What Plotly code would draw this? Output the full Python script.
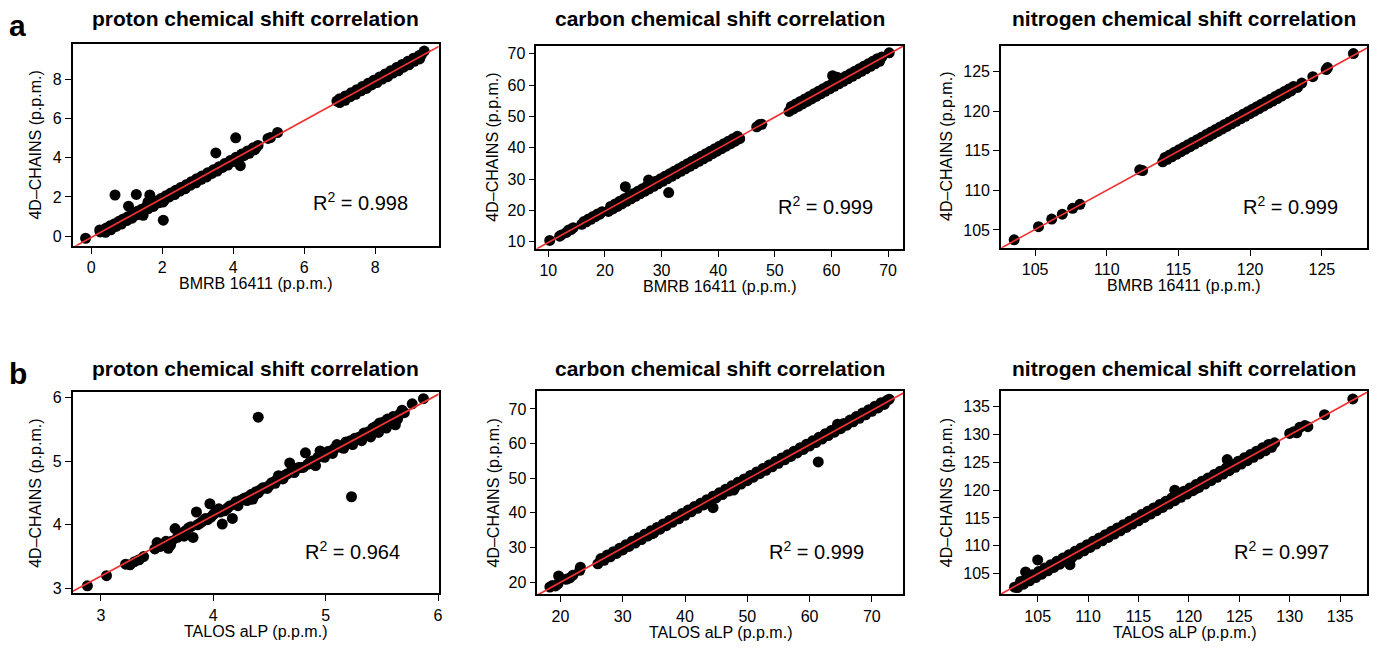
import numpy as np
import plotly.graph_objects as go

W, H = 1382, 648
FONT = "Liberation Sans, Arial, Helvetica, sans-serif"

# ---------------- data ----------------
# a: proton, BMRB 16411 vs 4D-CHAINS
a1_x = [-0.16, 0.24,
        0.25, 0.3, 0.36, 0.42, 0.47, 0.53, 0.6, 0.66, 0.72, 0.78,
        0.85, 0.9, 0.97, 1.03, 1.1, 1.16, 1.22, 1.3, 1.36, 1.42,
        1.5, 1.56, 1.62, 1.7, 1.76, 1.83, 1.9, 1.96, 2.03, 2.1,
        2.17, 2.24, 2.3, 2.38, 2.45, 2.52, 2.6, 2.67, 2.74, 2.82,
        2.9, 2.97, 3.05, 3.12, 3.2, 3.28, 3.36, 3.44, 3.52, 3.6,
        3.68, 3.76, 3.84, 3.92, 4.0, 4.08, 4.16, 4.24, 4.32, 4.4,
        4.48, 4.56, 4.64, 4.7,
        0.4, 0.55, 0.7, 0.85, 1.0, 1.15, 1.3, 1.45, 1.6, 1.75,
        1.9, 2.05, 2.2, 2.35, 2.5, 2.65, 2.8, 2.95, 3.1, 3.25,
        3.4, 3.55, 3.7, 3.85, 4.0, 4.15, 4.3, 4.45, 4.6,
        0.67, 1.27, 1.65, 1.05, 2.02, 2.03, 1.46, 0.85, 1.6, 3.51, 4.07, 4.2,
        4.98, 5.05, 5.25,
        6.92, 7.0, 7.08, 7.16, 7.24, 7.32, 7.4, 7.48, 7.56, 7.64,
        7.72, 7.8, 7.88, 7.96, 8.04, 8.12, 8.2, 8.28, 8.36, 8.44,
        8.52, 8.6, 8.68, 8.76, 8.84, 8.92, 9.0, 9.08, 9.16, 9.24,
        9.3, 9.38,
        7.0, 7.15, 7.3, 7.45, 7.6, 7.75, 7.9, 8.05, 8.2, 8.35,
        8.5, 8.65, 8.8, 8.95, 9.1, 9.25]
a1_y = [-0.1, 0.32,
        0.22, 0.3, 0.27, 0.42, 0.37, 0.53, 0.5, 0.64, 0.6, 0.76,
        0.74, 0.88, 0.86, 1.0, 0.98, 1.13, 1.1, 1.27, 1.24, 1.38,
        1.38, 1.53, 1.5, 1.66, 1.64, 1.8, 1.78, 1.92, 1.92, 2.06,
        2.05, 2.2, 2.18, 2.34, 2.32, 2.48, 2.47, 2.62, 2.6, 2.78,
        2.76, 2.93, 2.9, 3.07, 3.06, 3.23, 3.2, 3.38, 3.36, 3.54,
        3.52, 3.7, 3.68, 3.86, 3.84, 4.02, 4.0, 4.18, 4.16, 4.34,
        4.32, 4.5, 4.48, 4.62,
        0.2, 0.33, 0.5, 0.62, 0.8, 0.92, 1.1, 1.22, 1.4, 1.52,
        1.7, 1.82, 2.0, 2.12, 2.3, 2.42, 2.6, 2.72, 2.9, 3.02,
        3.2, 3.32, 3.5, 3.62, 3.8, 3.92, 4.1, 4.22, 4.4,
        2.1, 2.13, 2.1, 1.53, 1.74, 0.82, 1.07, 0.74, 1.75, 4.24, 5.01, 3.59,
        4.98, 5.02, 5.28,
        6.88, 7.0, 6.96, 7.14, 7.12, 7.3, 7.28, 7.46, 7.44, 7.62,
        7.6, 7.78, 7.76, 7.94, 7.92, 8.1, 8.08, 8.26, 8.24, 8.42,
        8.4, 8.58, 8.56, 8.74, 8.72, 8.9, 8.88, 9.06, 9.04, 9.2,
        9.22, 9.42,
        6.8, 6.92, 7.1, 7.22, 7.4, 7.52, 7.7, 7.82, 8.0, 8.12,
        8.3, 8.42, 8.6, 8.72, 8.9, 9.02]

# a: carbon
a2_x = [10.25, 12.0, 12.3, 13.2, 13.6, 14.0, 14.4,
        15.9, 16.3, 16.7, 17.1, 17.5, 17.9, 18.3, 18.7, 19.1, 19.5,
        20.6, 21.0, 21.4, 21.8, 22.2, 22.6, 23.0, 23.4, 23.8, 24.2,
        24.6, 25.0, 25.4, 25.8, 26.2, 26.6, 27.0, 27.4, 27.8, 28.2,
        28.6, 29.0, 29.4, 29.8, 30.2, 30.6, 31.0, 31.4, 31.8, 32.2,
        32.6, 33.0, 33.4, 33.8, 34.2, 34.6, 35.0, 35.4, 35.8, 36.2,
        36.6, 37.0, 37.4, 37.8, 38.2, 38.6, 39.0, 39.4, 39.8, 40.2,
        40.6, 41.0, 41.4, 41.8, 42.2, 42.6, 43.0, 43.4, 43.8,
        23.6, 27.7, 31.25, 27.3,
        46.8, 47.3, 47.7,
        52.5, 52.9, 53.3, 53.7, 54.1, 54.5, 54.9, 55.3, 55.7, 56.1,
        56.5, 56.9, 57.3, 57.7, 58.1, 58.5, 58.9, 59.3, 59.7, 60.1,
        60.5, 60.9, 61.3, 61.7, 62.1, 62.5, 62.9, 63.3, 63.7, 64.1,
        64.5, 64.9, 65.3, 65.7, 66.1, 66.5, 66.9, 67.3, 67.7, 68.1,
        68.5, 68.9,
        60.2, 61.0, 70.2]
a2_y = [10.44, 11.8, 12.2, 13.0, 13.8, 13.9, 14.5,
        15.6, 16.5, 16.4, 17.3, 17.2, 18.1, 18.0, 18.9, 18.8, 19.6,
        19.7, 21.3, 20.5, 22.1, 21.3, 22.9, 22.1, 23.7, 22.9, 24.5,
        23.7, 25.3, 24.5, 26.1, 25.3, 26.9, 26.1, 27.7, 26.9, 28.5,
        27.7, 29.3, 28.5, 30.1, 29.3, 30.9, 30.1, 31.7, 30.9, 32.5,
        31.7, 33.3, 32.5, 34.1, 33.3, 34.9, 34.1, 35.7, 34.9, 36.5,
        35.7, 37.3, 36.5, 38.1, 37.3, 38.9, 38.1, 39.7, 38.9, 40.5,
        39.7, 41.3, 40.5, 42.1, 41.3, 42.9, 42.1, 43.7, 42.9,
        27.6, 29.7, 25.7, 26.6,
        46.7, 47.4, 47.5,
        51.6, 53.2, 52.4, 54.0, 53.2, 54.8, 54.0, 55.6, 54.8, 56.4,
        55.6, 57.2, 56.4, 58.0, 57.2, 58.8, 58.0, 59.6, 58.8, 60.4,
        59.6, 61.2, 60.4, 62.0, 61.2, 62.8, 62.0, 63.6, 62.8, 64.4,
        63.6, 65.2, 64.4, 66.0, 65.2, 66.8, 66.0, 67.6, 66.8, 68.4,
        67.6, 69.0,
        63.0, 62.5, 70.3]

# a: nitrogen
a3_x = [103.54, 105.24, 106.16, 106.9, 107.62, 108.13, 112.3, 112.5,
        113.9, 114.06, 114.22, 114.38, 114.54, 114.7, 114.86, 115.02, 115.18, 115.34,
        115.5, 115.66, 115.82, 115.98, 116.14, 116.3, 116.46, 116.62, 116.78, 116.94,
        117.1, 117.26, 117.42, 117.58, 117.74, 117.9, 118.06, 118.22, 118.38, 118.54,
        118.7, 118.86, 119.02, 119.18, 119.34, 119.5, 119.66, 119.82, 119.98, 120.14,
        120.3, 120.46, 120.62, 120.78, 120.94, 121.1, 121.26, 121.42, 121.58, 121.74,
        121.9, 122.06, 122.22, 122.38, 122.54, 122.7, 122.86, 123.02, 123.3, 123.6,
        124.37, 125.4, 125.3, 127.2]
a3_y = [103.75, 105.41, 106.37, 107.0, 107.74, 108.24, 112.6, 112.5,
        113.6, 114.16, 113.92, 114.48, 114.24, 114.8, 114.56, 115.12, 114.88, 115.44,
        115.2, 115.76, 115.52, 116.08, 115.84, 116.4, 116.16, 116.72, 116.48, 117.04,
        116.8, 117.36, 117.12, 117.68, 117.44, 118.0, 117.76, 118.32, 118.08, 118.64,
        118.4, 118.96, 118.72, 119.28, 119.04, 119.6, 119.36, 119.92, 119.68, 120.24,
        120.0, 120.56, 120.32, 120.88, 120.64, 121.2, 120.96, 121.52, 121.28, 121.84,
        121.6, 122.16, 121.92, 122.48, 122.24, 122.8, 122.56, 123.12, 123.0, 123.55,
        124.36, 125.5, 125.25, 127.27]

# b: proton, TALOS aLP vs 4D-CHAINS
b1_x = [2.88, 3.05, 3.22, 3.26, 3.3, 3.34, 3.38,
        3.48, 3.5, 3.53, 3.56, 3.6, 3.63, 3.58,
        3.66, 3.68, 3.72, 3.75, 3.78, 3.82, 3.85, 3.86, 3.9, 3.93,
        3.97, 3.98, 4.02, 4.05, 4.08, 4.1, 4.13, 4.17, 4.2, 4.24,
        4.28, 4.32, 4.35, 4.38, 4.42, 4.46, 4.5, 4.53, 4.56, 4.58,
        4.6, 4.64, 4.68, 4.7, 4.74, 4.78, 4.82, 4.84, 4.88, 4.91,
        4.95, 4.97, 5.0, 5.04, 5.08, 5.1, 5.14, 5.18, 5.22, 5.26,
        5.3, 5.34, 5.38, 5.42, 5.45, 5.48, 5.52, 5.55, 5.6, 5.66,
        5.68, 5.77, 5.87, 4.4, 5.23,
        3.62, 3.7, 3.74, 3.8, 3.88, 3.95, 4.0, 4.06, 4.12, 4.15,
        4.22, 4.26, 4.3, 4.34, 4.37, 4.4, 4.44, 4.48, 4.52, 4.55,
        4.62, 4.66, 4.72, 4.76, 4.8, 4.86, 4.9, 4.93, 4.99, 5.02,
        5.06, 5.12, 5.16, 5.2, 5.24, 5.28, 5.32, 5.36, 5.4, 5.44,
        5.47, 5.5, 5.54, 5.58, 5.62, 5.64, 5.7]
b1_y = [3.04, 3.2, 3.38, 3.37, 3.42, 3.45, 3.5,
        3.62, 3.72, 3.66, 3.7, 3.63, 3.74, 3.74,
        3.94, 3.8, 3.85, 3.9, 3.95, 3.8, 4.2, 4.0, 4.05, 4.1,
        4.33, 4.12, 4.2, 4.25, 4.01, 4.22, 4.27, 4.1, 4.36, 4.38,
        4.42, 4.45, 4.4, 4.52, 4.55, 4.58, 4.62, 4.66, 4.7, 4.77,
        4.74, 4.78, 4.97, 4.85, 4.88, 4.9, 5.13, 4.95, 5.0, 4.93,
        5.16, 5.08, 5.12, 5.16, 5.2, 5.26, 5.24, 5.3, 5.32, 5.36,
        5.38, 5.44, 5.46, 5.52, 5.55, 5.6, 5.62, 5.66, 5.7, 5.74,
        5.8, 5.9, 5.98, 5.69, 4.44,
        3.68, 3.86, 3.82, 3.97, 4.02, 4.08, 4.16, 4.2, 4.25, 4.3,
        4.3, 4.4, 4.38, 4.48, 4.47, 4.5, 4.58, 4.57, 4.66, 4.65,
        4.72, 4.8, 4.82, 4.9, 4.9, 4.98, 4.97, 5.06, 5.06, 5.15,
        5.12, 5.22, 5.2, 5.29, 5.26, 5.35, 5.32, 5.41, 5.38, 5.48,
        5.45, 5.53, 5.52, 5.6, 5.57, 5.66, 5.76]

# b: carbon
b2_x = [18.3, 18.7, 19.2, 19.6, 19.7, 20.9, 21.5, 22.0, 23.1, 23.2,
        26.0, 26.5, 27.0, 27.5, 28.0, 28.5, 29.0, 29.5, 30.0, 30.5,
        31.0, 31.5, 32.0, 32.5, 33.0, 33.5, 34.0, 34.5, 35.0, 35.5,
        36.0, 36.5, 37.0, 37.5, 38.0, 38.5, 39.0, 39.5, 40.0, 40.5,
        41.0, 41.5, 42.0, 42.5, 43.0, 43.5, 44.0, 44.5, 45.0, 45.5,
        46.0, 46.5, 47.0, 47.5, 48.0, 48.5, 49.0, 49.5, 50.0, 50.5,
        51.0, 51.5, 52.0, 52.5, 53.0, 53.5, 54.0, 54.5, 55.0, 55.5,
        56.0, 56.5, 57.0, 57.5, 58.0, 58.5, 59.0, 59.5, 60.0, 60.5,
        61.0, 61.5, 62.0, 62.5, 63.0, 63.5, 64.0, 64.5, 65.0, 65.5,
        66.0, 66.5, 67.0, 67.5, 68.0, 68.5, 69.0, 69.5, 70.0, 70.5,
        71.0, 71.5, 72.0, 72.4,
        44.5, 47.8, 61.4, 64.5, 72.8, 34.8]
b2_y = [18.6, 19.0, 18.9, 19.5, 21.8, 20.8, 21.2, 22.0, 23.4, 24.3,
        25.3, 26.8, 26.3, 27.8, 27.3, 28.8, 28.3, 29.8, 29.3, 30.8,
        30.3, 31.8, 31.3, 32.8, 32.3, 33.8, 33.3, 34.8, 34.3, 35.8,
        35.3, 36.8, 36.3, 37.8, 37.3, 38.8, 38.3, 39.8, 39.3, 40.8,
        40.3, 41.8, 41.3, 42.8, 42.3, 43.8, 43.3, 44.8, 44.3, 45.8,
        45.3, 46.8, 46.3, 47.8, 47.3, 48.8, 48.3, 49.8, 49.3, 50.8,
        50.3, 51.8, 51.3, 52.8, 52.3, 53.8, 53.3, 54.8, 54.3, 55.8,
        55.3, 56.8, 56.3, 57.8, 57.3, 58.8, 58.3, 59.8, 59.3, 60.8,
        60.3, 61.8, 61.3, 62.8, 62.3, 63.8, 63.3, 64.8, 64.3, 65.8,
        65.3, 66.8, 66.3, 67.8, 67.3, 68.8, 68.3, 69.8, 69.3, 70.8,
        70.3, 71.8, 71.3, 72.4,
        41.5, 46.6, 54.7, 65.6, 72.8, 34.0]

# b: nitrogen
b3_x = [102.7,
        103.0, 103.3, 103.6, 103.9, 104.2, 104.5, 104.8, 105.1, 105.4, 105.7,
        106.0, 106.3, 106.6, 106.9, 107.2, 107.5, 107.8, 108.1, 108.4, 108.7,
        109.0, 109.3, 109.6, 109.9, 110.2, 110.5, 110.8, 111.1, 111.4, 111.7,
        112.0, 112.3, 112.6, 112.9, 113.2, 113.5, 113.8, 114.1, 114.4, 114.7,
        115.0, 115.3, 115.6, 115.9, 116.2, 116.5, 116.8, 117.1, 117.4, 117.7,
        118.0, 118.3, 118.6, 118.9, 119.2, 119.5, 119.8, 120.1, 120.4, 120.7,
        121.0, 121.3, 121.6, 121.9, 122.2, 122.5, 122.8, 123.1, 123.4, 123.7,
        124.0, 124.3, 124.6, 124.9, 125.2, 125.5, 125.8, 126.1, 126.4, 126.7,
        127.0, 127.3, 127.6, 127.9, 128.2, 128.5,
        130.0, 130.4, 130.7, 131.0, 131.5, 131.8, 133.45, 136.26,
        105.0, 103.8, 108.2, 123.8, 118.6, 120.75, 113.8]
b3_y = [102.57,
        102.5, 103.6, 103.1, 104.2, 103.7, 104.8, 104.3, 105.4, 104.9, 106.0,
        105.5, 106.6, 106.1, 107.2, 106.7, 107.8, 107.3, 108.4, 107.9, 109.0,
        108.5, 109.6, 109.1, 110.2, 109.7, 110.8, 110.3, 111.4, 110.9, 112.0,
        111.5, 112.6, 112.1, 113.2, 112.7, 113.8, 113.3, 114.4, 113.9, 115.0,
        114.5, 115.6, 115.1, 116.2, 115.7, 116.8, 116.3, 117.4, 116.9, 118.0,
        117.5, 118.6, 118.1, 119.2, 118.7, 119.8, 119.3, 120.4, 119.9, 121.0,
        120.5, 121.6, 121.1, 122.2, 121.7, 122.8, 122.3, 123.4, 122.9, 124.0,
        123.5, 124.6, 124.1, 125.2, 124.7, 125.8, 125.3, 126.4, 125.9, 127.0,
        126.5, 127.6, 127.1, 128.2, 127.7, 128.5,
        130.2, 130.5, 130.3, 131.3, 131.6, 131.4, 133.57, 136.4,
        107.45, 105.3, 106.6, 125.5, 120.0, 120.3, 113.5]

titles = ["proton chemical shift correlation",
          "carbon chemical shift correlation",
          "nitrogen chemical shift correlation"] * 2
r2_labels = ["0.998", "0.999", "0.999", "0.964", "0.999", "0.997"]
x_titles = ["BMRB 16411 (p.p.m.)"] * 3 + ["TALOS aLP (p.p.m.)"] * 3
y_title = "4D\u2013CHAINS (p.p.m.)"
x_ticks = [[0, 2, 4, 6, 8], [10, 20, 30, 40, 50, 60, 70], [105, 110, 115, 120, 125],
           [3, 4, 5, 6], [20, 30, 40, 50, 60, 70], [105, 110, 115, 120, 125, 130, 135]]
y_ticks = [[0, 2, 4, 6, 8], [10, 20, 30, 40, 50, 60, 70], [105, 110, 115, 120, 125],
           [3, 4, 5, 6], [20, 30, 40, 50, 60, 70], [105, 110, 115, 120, 125, 130, 135]]
panel_letters = ["a", "b"]

# ---------------- layout geometry ----------------
boxes = [(73, 440, 41, 245), (538, 906, 43, 248), (1004, 1371, 43, 247),
         (73, 440, 393, 596), (539, 906, 392, 597), (1004, 1371, 392, 597)]
x_ranges = [[-0.52, 9.79], [7.9, 72.7], [102.63, 128.15],
            [2.75, 6.006], [16.3, 75.07], [101.37, 137.67]]
y_ranges = [[-0.48, 9.8], [7.8, 72.6], [102.76, 128.28],
            [2.92, 6.08], [16.44, 75.07], [101.25, 137.75]]
r2_pos = [(362, 200), (828, 204), (1294, 204), (354, 553), (819, 553), (1285, 553)]
ytitle_off = [37, 44, 55, 37, 44, 54]

data = [(a1_x, a1_y), (a2_x, a2_y), (a3_x, a3_y), (b1_x, b1_y), (b2_x, b2_y), (b3_x, b3_y)]
for xs, ys in data:
    assert len(xs) == len(ys)

fig = go.Figure()
annotations = []
layout = dict(width=W, height=H, margin=dict(l=0, r=0, t=0, b=0),
              paper_bgcolor="white", plot_bgcolor="white", showlegend=False,
              font=dict(family=FONT, color="black"))


def px(x):
    return x / W


def py(y):
    return 1 - y / H


for i, ((xs, ys), (l, r, t, b)) in enumerate(zip(data, boxes)):
    n = "" if i == 0 else str(i + 1)
    xa, ya = "x" + n, "y" + n
    fig.add_trace(go.Scatter(x=xs, y=ys, mode="markers", xaxis=xa, yaxis=ya,
                             marker=dict(color="black", size=11, line=dict(width=0)),
                             cliponaxis=True, hoverinfo="skip"))
    slope, icpt = np.polyfit(np.array(xs), np.array(ys), 1)
    lx = np.array(x_ranges[i])
    fig.add_trace(go.Scatter(x=lx, y=icpt + slope * lx, mode="lines", xaxis=xa, yaxis=ya,
                             line=dict(color="#f03232", width=1.7), hoverinfo="skip"))
    common = dict(showgrid=False, zeroline=False, showline=True, mirror=True,
                  linecolor="black", linewidth=1.8, ticks="outside", ticklen=6,
                  tickwidth=1.3, tickcolor="black",
                  tickfont=dict(size=16, family=FONT, color="black"))
    layout["xaxis" + n] = dict(domain=[px(l), px(r)], anchor=ya, range=x_ranges[i],
                               tickvals=x_ticks[i], **common)
    layout["yaxis" + n] = dict(domain=[py(b), py(t)], anchor=xa, range=y_ranges[i],
                               tickvals=y_ticks[i], **common)
    cx = (l + r) / 2
    cy = (t + b) / 2
    title_y = 16 if i < 3 else 369
    annotations.append(dict(text="<b>%s</b>" % titles[i], x=px(cx), y=py(title_y),
                            xref="paper", yref="paper", showarrow=False,
                            xanchor="center", yanchor="middle",
                            font=dict(size=21, family=FONT, color="black")))
    annotations.append(dict(text=x_titles[i], x=px(cx), y=py(b + 38),
                            xref="paper", yref="paper", showarrow=False,
                            xanchor="center", yanchor="middle",
                            font=dict(size=16, family=FONT, color="black")))
    annotations.append(dict(text=y_title, x=px(l - ytitle_off[i]), y=py(cy),
                            xref="paper", yref="paper", showarrow=False, textangle=-90,
                            xanchor="center", yanchor="middle",
                            font=dict(size=16, family=FONT, color="black")))
    rx, ry = r2_pos[i]
    annotations.append(dict(text="R<sup>2</sup> = %s" % r2_labels[i], x=px(rx), y=py(ry),
                            xref="paper", yref="paper", showarrow=False,
                            xanchor="center", yanchor="middle",
                            font=dict(size=20, family=FONT, color="black")))

for letter, yy in zip(panel_letters, [23, 374]):
    annotations.append(dict(text="<b>%s</b>" % letter, x=px(18), y=py(yy),
                            xref="paper", yref="paper", showarrow=False,
                            xanchor="center", yanchor="middle",
                            font=dict(size=30, family=FONT, color="black")))

layout["annotations"] = annotations
fig.update_layout(**layout)
fig.write_html("out.html")
